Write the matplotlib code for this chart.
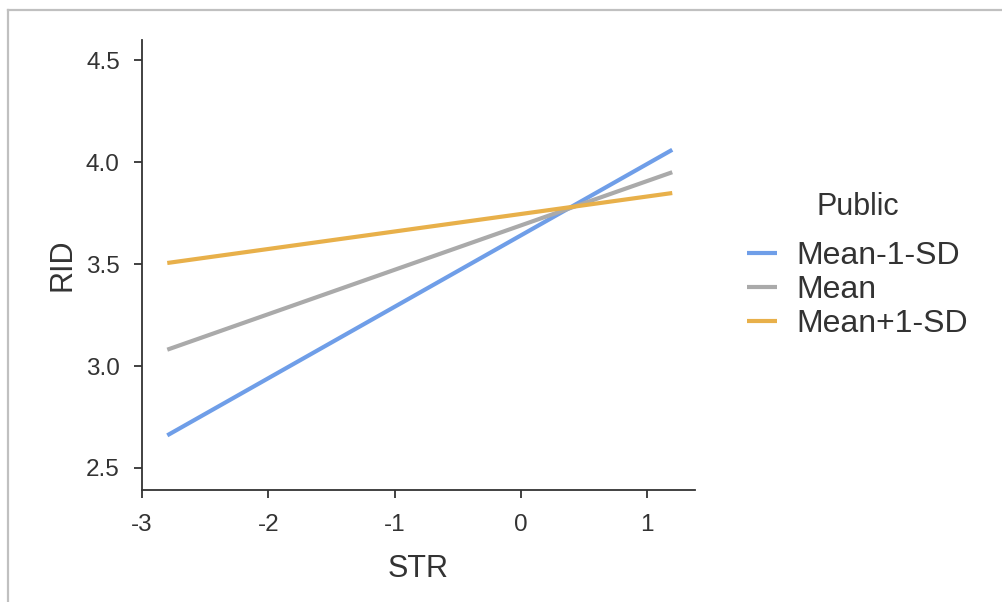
import matplotlib.pyplot as plt
from matplotlib.lines import Line2D

plt.rcParams['font.family'] = ['Liberation Sans', 'DejaVu Sans']

# simple slopes: RID predicted from STR at three levels of Public
str_range = [-2.8, 1.2]
groups = ["Mean-1-SD", "Mean", "Mean+1-SD"]
rid_low = [2.66, 4.06]
rid_mean = [3.08, 3.95]
rid_high = [3.505, 3.848]
colors = ["#6f9ee8", "#aaaaaa", "#e8b04a"]

x_ticks = [-3, -2, -1, 0, 1]
y_ticks = [2.5, 3.0, 3.5, 4.0, 4.5]

fig = plt.figure(figsize=(10.03, 6.02), dpi=100)
ax = fig.add_axes([0.1416, 0.186, 0.5513, 0.7475])

for name, vals, c in zip(groups, [rid_low, rid_mean, rid_high], colors):
    ax.plot(str_range, vals, color=c, lw=3, label=name, solid_capstyle='butt')

ax.set_xlim(-3, 1.38)
ax.set_ylim(2.392, 4.598)
ax.set_xticks(x_ticks)
ax.set_xticklabels([str(t) for t in x_ticks])
ax.set_yticks(y_ticks)
ax.set_yticklabels([f"{t:.1f}" for t in y_ticks])

dark = "#333333"
for s in ["top", "right"]:
    ax.spines[s].set_visible(False)
for s in ["left", "bottom"]:
    ax.spines[s].set_color(dark)
    ax.spines[s].set_linewidth(1.3)
ax.tick_params(colors=dark, labelsize=17.5, length=6, width=1.3)
ax.tick_params(axis='y', pad=10)
ax.tick_params(axis='x', pad=11)

ax.set_xlabel("STR", fontsize=22, color=dark, labelpad=13)
ax.set_ylabel("RID", fontsize=22, color=dark, labelpad=6)

leg = ax.legend(title="Public", loc="center left", bbox_to_anchor=(0.716, 0.559),
                bbox_transform=fig.transFigure, frameon=False, fontsize=23,
                title_fontsize=22, handlelength=0.95, handletextpad=0.6,
                labelspacing=0.12)
for t in leg.get_texts():
    t.set_color(dark)
leg.get_title().set_color(dark)
leg._legend_box.sep = 14

# screenshot border
fig.add_artist(Line2D([0.008, 1.0], [0.9834, 0.9834], color="#c0c0c0", lw=1.6))
fig.add_artist(Line2D([0.008, 0.008], [0.0, 0.9834], color="#c0c0c0", lw=1.6))

fig.savefig("out.png", dpi=100)
